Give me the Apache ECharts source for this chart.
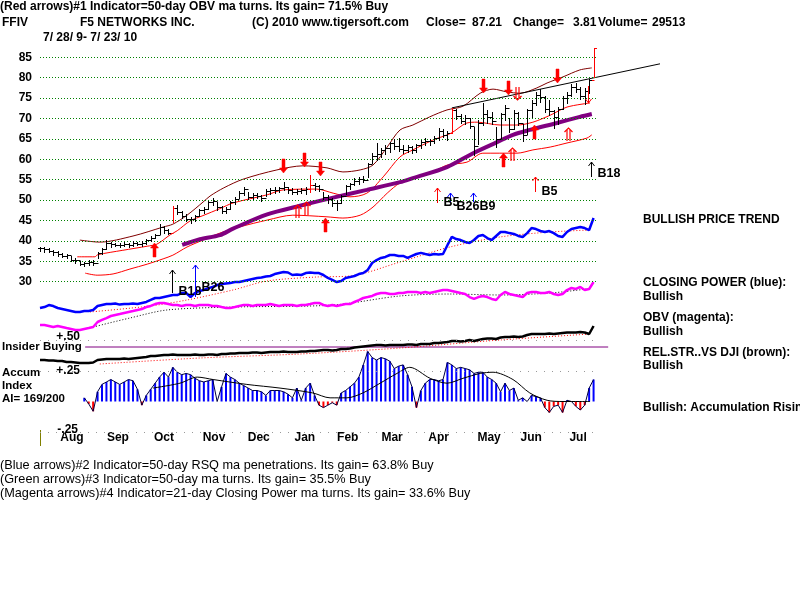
<!DOCTYPE html>
<html><head><meta charset="utf-8">
<script src="https://cdn.jsdelivr.net/npm/echarts@6/dist/echarts.min.js"></script>
<style>html,body{margin:0;padding:0;background:#fff}#c{width:800px;height:600px}</style>
</head><body><div id="c"></div>
<script>
// ---------------- DATA ----------------
// price bars, one every ~2 trading days, 7/28/09 .. 7/23/10
const lows = [37.5,37.4,37.2,36.6,36.4,36.0,35.9,35.0,34.6,34.0,33.9,34.0,34.1,35.8,36.8,38.0,38.6,38.7,38.6,38.8,
38.5,38.7,38.9,38.8,39.3,39.9,40.6,41.6,42.0,41.6,44.6,46.6,45.6,44.9,44.5,44.9,46.2,46.8,47.9,48.8,
47.6,46.9,46.8,47.8,49.0,50.4,51.2,50.2,50.3,50.4,49.8,51.0,51.6,51.8,51.9,52.4,51.8,51.6,51.5,51.7,
51.6,52.0,52.4,52.2,50.2,49.2,48.6,47.5,49.3,51.4,52.6,53.8,54.0,54.4,55.6,59.0,59.8,60.6,61.2,61.8,
62.6,62.0,61.6,61.8,61.5,61.9,62.8,63.4,63.6,63.9,64.8,65.4,64.7,66.5,69.8,69.0,68.6,67.6,61.0,63.8,
68.4,69.0,68.6,63.0,65.2,69.6,66.6,67.4,68.5,64.6,66.2,70.4,73.2,74.0,71.6,70.8,67.6,68.6,72.4,73.8,
75.4,76.6,74.8,73.6,76.2,80.2];
const highs = [38.6,38.5,38.2,37.7,37.5,37.1,36.9,36.2,35.8,35.0,34.9,35.2,35.4,37.4,38.2,40.2,39.8,39.6,39.5,39.7,
39.6,40.0,39.8,40.0,40.4,41.2,41.8,44.2,43.6,43.0,48.5,48.8,47.4,46.5,45.8,46.4,47.8,48.2,49.8,50.6,
49.6,48.6,48.3,49.8,50.7,52.2,53.1,51.9,51.7,51.8,51.2,52.6,53.0,53.1,53.2,54.5,53.2,52.9,52.8,53.0,
53.1,56.1,54.2,53.8,52.0,51.2,50.6,50.0,51.2,53.8,54.3,55.4,55.6,55.8,59.1,61.6,64.0,62.8,63.6,64.2,
64.9,65.2,63.4,63.6,63.2,63.7,64.8,65.2,65.0,65.6,67.6,67.4,67.0,72.6,72.4,71.0,70.8,70.2,68.0,69.6,
73.8,72.2,71.6,68.0,71.4,73.4,70.2,72.0,71.6,68.6,72.4,74.6,76.6,77.2,75.4,74.6,72.2,72.8,75.6,76.4,
78.4,78.8,77.8,77.4,79.8,87.3];
const closes = [38.2,37.9,37.5,37.2,36.8,36.3,36.6,35.3,35.4,34.4,34.6,34.8,34.5,37.0,37.9,39.6,39.2,39.0,39.1,39.3,
38.9,39.5,39.2,39.6,40.1,40.8,41.5,43.5,42.6,41.9,48.0,47.2,46.0,45.4,45.3,46.1,47.5,47.7,49.5,49.8,
48.2,47.4,47.9,49.5,50.3,51.8,52.6,50.8,51.2,50.9,50.6,52.2,52.5,52.4,53.0,53.2,52.4,52.0,52.3,52.5,
52.8,53.6,53.5,52.6,50.8,50.2,49.4,49.2,50.9,53.5,53.9,54.8,55.2,55.0,58.8,60.8,61.2,62.3,62.7,63.9,
63.2,62.6,62.4,62.9,62.2,63.4,64.3,64.6,64.4,65.2,67.0,66.0,66.5,72.0,70.6,69.5,70.2,68.2,63.2,68.8,
71.2,70.4,69.3,65.0,71.0,72.5,67.4,71.3,69.0,66.0,72.0,73.8,75.8,75.2,72.4,71.8,70.4,72.4,75.0,75.8,
77.6,77.2,75.6,76.8,79.4,87.2];
const redBarIdx = [30, 61, 93, 125];

// bands and moving averages [dayIndex, price]
const upperBand = [[9.0,40.2],[13.5,39.7],[21.0,41.2],[27.8,43.4],[30.0,44.1],[33.2,46.3],[36.8,49.5],[38.4,51.0],[41.5,53.0],[45.8,55.1],[53.5,57.4],[59.4,58.4],[64.8,57.9],[68.4,56.9],[72.3,57.4],[75.2,58.6],[78.4,63.0],[81.3,67.2],[84.2,68.4],[88.0,70.4],[91.9,72.1],[95.5,73.0],[99.4,76.2],[102.3,77.2],[105.5,76.5],[108.4,76.2],[112.2,77.5],[114.5,78.7],[118.1,80.2],[121.9,81.9],[124.6,82.4]];
const middleBand = [[8.4,36.1],[12.4,36.1],[13.0,36.6],[18.7,37.7],[24.2,38.7],[26.4,39.2],[29.4,41.5],[31.0,42.5],[33.9,44.9],[36.8,46.2],[40.6,47.9],[43.6,49.3],[51.3,51.3],[54.9,52.5],[62.5,52.7],[66.2,51.7],[70.0,50.8],[73.8,51.7],[77.5,55.7],[81.3,60.6],[84.2,62.3],[88.7,64.7],[92.8,66.4],[96.4,68.9],[98.7,69.1],[103.9,68.4],[107.7,68.4],[111.3,69.1],[115.2,70.8],[119.0,72.8],[124.2,73.8]];
const lowerBand = [[10.2,32.1],[12.9,31.6],[16.5,31.9],[20.3,33.1],[24.2,34.3],[27.8,35.6],[30.0,36.5],[33.2,38.5],[36.8,40.2],[40.6,41.9],[45.0,43.4],[51.3,45.1],[57.1,46.3],[64.8,45.9],[68.4,45.6],[72.3,46.3],[75.2,48.3],[78.4,51.7],[81.3,54.2],[85.1,55.6],[88.7,56.9],[92.0,58.6],[96.4,59.3],[100.0,61.5],[107.7,61.5],[111.3,62.3],[115.2,63.0],[119.0,64.0],[123.5,65.2],[124.6,66.0]];
const ma50 = [[32.1,39.0],[36.1,40.4],[40.6,41.4],[43.6,43.0],[51.3,46.5],[58.7,48.6],[66.2,50.6],[73.8,52.5],[81.3,54.4],[84.2,55.4],[91.9,58.1],[97.8,61.5],[103.2,64.2],[106.8,66.0],[110.6,67.2],[116.7,68.9],[121.9,70.4],[124.6,71.1]];
const trendLine = [[93.0,72.6],[140,83.4]];

// indicators (relative units)
const closingPower = [10.9,11.8,13.6,12.7,10.9,10.0,9.1,8.2,7.3,7.3,8.2,8.2,9.1,12.7,13.6,14.5,14.5,15.0,14.0,14.5,
14.5,15.0,14.5,15.5,16.4,18.2,20.0,20.0,20.9,21.8,22.7,22.7,24.5,24.5,20.9,24.5,26.4,27.3,29.0,30.0,
31.8,32.7,33.2,33.6,34.5,34.5,35.5,36.4,37.3,38.2,38.6,39.5,40.0,41.8,42.7,43.6,43.2,40.9,41.4,40.9,
42.7,43.2,42.7,42.7,40.9,38.2,36.4,34.5,35.5,38.2,39.0,40.0,41.8,42.7,45.5,51.8,54.5,56.4,57.3,59.1,
59.1,58.2,58.2,56.4,58.2,60.0,61.0,60.0,59.1,60.0,59.5,60.0,68.0,75.5,73.6,72.7,70.9,70.0,72.7,76.4,
77.3,74.5,72.7,76.4,80.0,80.0,79.0,78.2,76.4,75.5,79.0,83.6,82.7,80.9,80.0,80.9,79.0,76.4,75.5,80.0,
82.7,83.6,84.5,83.6,81.8,92.7];
const closingPowerMA = [[11.3,7.3],[24.8,12.7],[33.2,18.2],[43.6,27.3],[51.3,35.5],[62.5,39.1],[70.0,40.0],[81.3,52.7],[92.6,66.4],[103.9,75.5],[115.2,80.0],[124.2,81.8]];
const obv = [21.4,21.4,20.0,18.6,20.0,18.6,17.1,15.7,14.3,14.3,15.7,17.1,18.6,25.7,28.6,31.4,34.3,35.7,37.1,38.6,
40.0,41.4,42.9,44.3,47.1,48.6,51.4,52.9,52.9,51.4,50.0,50.0,48.6,50.0,50.0,48.6,50.0,50.0,50.0,48.6,
48.6,47.1,45.7,45.7,47.1,48.6,50.0,50.0,48.6,50.0,50.0,50.0,51.4,50.0,48.6,50.0,50.0,50.0,48.6,50.0,
50.0,51.4,52.9,52.9,50.0,48.6,50.0,48.6,50.0,51.4,51.4,54.3,57.1,60.0,61.4,62.9,65.7,67.1,67.1,65.7,
65.7,67.1,67.1,68.6,68.6,68.6,67.1,68.6,67.1,68.6,70.0,71.4,71.4,70.0,68.6,67.1,65.7,61.4,58.6,61.4,
62.9,61.4,58.6,57.1,64.3,68.6,65.7,64.3,62.9,61.4,67.1,68.6,68.6,67.1,67.1,68.6,65.7,64.3,65.7,71.4,
74.3,72.9,75.7,71.4,72.9,82.9];
const obvMA = [[12.0,18.6],[20.3,31.4],[28.7,42.9],[43.6,47.1],[66.2,50.0],[81.3,62.9],[92.6,65.7],[103.9,64.3],[115.2,67.1],[123.5,72.9]];
const relStrength = [20,20,19,19,18,18,16,16,15,14,14,14,15,20,21,22,22,22,22,23,
22,23,24,25,26,28,28,29,30,30,31,30,30,30,30,31,30,30,31,31,
30,32,32,33,33,34,34,34,35,35,34,35,36,36,36,37,36,36,36,37,
37,38,38,39,40,40,39,40,42,42,43,45,46,47,48,49,50,50,49,50,
50,50,50,51,51,50,52,52,52,54,54,55,56,58,58,57,58,60,58,60,
62,63,63,62,65,66,66,67,66,67,70,72,72,72,72,73,72,73,74,75,
75,75,76,75,72,88];
const relStrengthMA = [[13.5,12],[36.1,24],[58.7,32],[81.3,44],[103.9,60],[124.2,72]];
const insiderLine = [[10.2,46],[128.3,46]];
const accum = [null,null,null,null,null,null,null,null,null,null,
0.03,-0.02,-0.08,0.08,0.14,0.16,0.18,0.16,0.14,0.16,0.18,0.17,0.10,-0.03,0.05,0.10,0.15,0.20,0.24,0.20,
0.28,0.24,0.22,0.23,0.22,0.19,0.17,0.16,0.17,0.18,0.00,0.12,0.23,0.20,0.18,0.15,0.13,0.11,0.09,0.09,
0.08,0.05,0.09,0.09,0.09,0.08,0.06,0.03,0.11,0.01,0.11,0.15,0.05,-0.03,-0.05,-0.03,-0.01,-0.03,0.07,0.09,
0.12,0.15,0.20,0.30,0.41,0.36,0.34,0.36,0.35,0.33,0.27,0.29,0.30,0.22,0.12,-0.05,0.09,0.15,0.18,0.18,
0.17,0.18,0.32,0.30,0.27,0.28,0.27,0.26,0.23,0.24,0.24,0.20,0.18,0.15,0.08,0.15,0.09,0.11,0.01,0.03,
0.00,0.05,0.04,0.03,-0.05,-0.09,-0.04,-0.03,-0.09,0.01,0.00,-0.04,-0.07,-0.03,0.11,0.18];
const accumMA = [[25.5,0.11],[31.6,0.15],[35.5,0.20],[39.1,0.18],[46.7,0.14],[54.2,0.11],[61.6,0.07],[65.5,0.03],[69.3,0.03],[72.9,0.07],[76.8,0.15],[80.6,0.23],[83.5,0.28],[88.1,0.19],[91.9,0.15],[95.5,0.19],[99.4,0.23],[102.3,0.24],[106.8,0.18],[110.6,0.07],[114.5,0.01],[118.1,0.0],[121.9,0.0],[124.2,0.0]];
const accumLevels = [0.5, 0.25, -0.25];

// signal arrows
const redBlockUp = [[25.7,39.5],[64.4,45.6],[104.5,61.5],[111.5,68.4]];
const redDoubleUp = [[58.0,48.8],[60.1,49.5],[106.6,62.8],[119.2,67.7]];
const redBlockDown = [[54.9,56.6],[59.6,58.1],[63.2,55.9],[100.0,76.3],[105.7,75.8],[116.7,78.7]];
const redDoubleDown = [[107.7,74.5]];
// [dayIndex, tip price, tail price, label, label price]
const blackSignals = [[29.8,32.9,27.2,'B18',27.5],[124.4,59.3,55.7,'B18',56.4]];
const blueSignals = [[35.0,34.1,26.3,'B26',28.5],[92.6,51.7,49.5,'B26B9',48.5],[97.8,51.7,49.5,'',0]];
const redSignals = [[89.6,53.0,49.3,'B5',49.3],[111.8,55.7,52.0,'B5',52.2]];
const redSellSignals = [[123.7,73.8,78.0,'',0]];

const monthNames = ['Aug','Sep','Oct','Nov','Dec','Jan','Feb','Mar','Apr','May','Jun','Jul'];
const monthIdx = [7.2,17.6,28.0,39.3,49.4,59.8,69.5,79.5,90.0,101.4,110.9,121.5];
const priceTicks = [30,35,40,45,50,55,60,65,70,75,80,85];
const LAST_DAY = 126;

// ---------------- CHART ----------------
const FONT = '"Liberation Sans", Arial, sans-serif';
const X_MAX = 140;
const chart = echarts.init(document.getElementById('c'), null, {renderer:'canvas'});

const grids = [
  {left:40, top:57.3, width:620, height:224.4},
  {left:40, top:210, width:620, height:110},
  {left:40, top:270, width:620, height:70},
  {left:40, top:320, width:620, height:50},
  {left:40, top:340.5, width:620, height:91.5}
].map(g => Object.assign({show:false, containLabel:false, outerBoundsMode:'none'}, g));

const xAxes = grids.map((g,k) => ({
  gridIndex:k, type:'value', min:0, max:X_MAX, show:k===4,
  axisLine:{show:false}, axisTick:{show:false}, splitLine:{show:false},
  axisLabel: k===4 ? {customValues:monthIdx, formatter:v=>monthNames[monthIdx.indexOf(v)] || '',
     fontFamily:FONT, fontWeight:'bold', fontSize:12, color:'#000', margin:0, showMinLabel:true, showMaxLabel:true} : {show:false}
}));
const hiddenY = (k,min,max) => ({gridIndex:k, type:'value', min, max, show:false, splitLine:{show:false}});
const yAxes = [
  {gridIndex:0, type:'value', min:30, max:85, interval:5,
   axisLine:{show:false}, axisTick:{show:false},
   axisLabel:{fontFamily:FONT, fontWeight:'bold', fontSize:12, color:'#000', margin:8},
   splitLine:{show:false}},
  hiddenY(1,0,100), hiddenY(2,0,100), hiddenY(3,0,100), hiddenY(4,-0.25,0.5)
];

const pairs = arr => arr.map((v,i)=>[i,v]);
const lineS = (k, data, color, width, extra) => Object.assign({
  type:'line', xAxisIndex:k, yAxisIndex:k, data, symbol:'none', silent:true, animation:false,
  lineStyle:{color, width}, z:3}, extra||{});

const ohlc = closes.map((c,i)=>[i, lows[i], highs[i], c, i>0?closes[i-1]:c, redBarIdx.includes(i)?1:0]);

function arrowSeries(data, color, kind){
  return {type:'custom', xAxisIndex:0, yAxisIndex:0, data:data.map(d=>[d[0],d[1],d[2]||0,d[4]||0]), clip:false, silent:true, z:10, animation:false,
    renderItem(params, api){
      const p = api.coord([api.value(0), api.value(1)]);
      const x = Math.round(p[0]) + 0.5, y = Math.round(p[1]);
      const s = (kind.endsWith('Down')) ? -1 : 1;
      if (kind.startsWith('block')) {
        const pts = [[x,y],[x+4,y+5*s],[x+1.5,y+5*s],[x+1.5,y+14*s],[x-1.5,y+14*s],[x-1.5,y+5*s],[x-4,y+5*s]];
        return {type:'polygon', shape:{points:pts}, style:{fill:color, stroke:color, lineWidth:0.5}};
      }
      if (kind.startsWith('double')) {
        return {type:'group', children:[
          {type:'polyline', shape:{points:[[x-4,y+4*s],[x,y],[x+4,y+4*s]]}, style:{stroke:color, fill:null, lineWidth:1.2}},
          {type:'line', shape:{x1:x-1.5,y1:y+2*s,x2:x-1.5,y2:y+13*s}, style:{stroke:color, lineWidth:1.2}},
          {type:'line', shape:{x1:x+1.5,y1:y+2*s,x2:x+1.5,y2:y+13*s}, style:{stroke:color, lineWidth:1.2}}
        ]};
      }
      // thin arrow with label
      const t = api.coord([api.value(0), api.value(2)]);
      const ty = Math.round(t[1]);
      const src = data[params.dataIndex];
      const children = [
        {type:'line', shape:{x1:x,y1:y,x2:x,y2:ty}, style:{stroke:color, lineWidth:1}},
        {type:'polyline', shape:{points:[[x-3,y+4*s],[x,y],[x+3,y+4*s]]}, style:{stroke:color, fill:null, lineWidth:1}}
      ];
      if (src[3]) {
        const lp = api.coord([api.value(0), api.value(3)]);
        children.push({type:'text', x:x+6, y:lp[1], style:{text:src[3], fontFamily:FONT, fontWeight:'bold', fontSize:12.5, fill:'#000', align:'left', verticalAlign:'middle'}});
      }
      return {type:'group', children};
    }};
}

const series = [
  lineS(0, upperBand, '#800000', 1, {smooth:0.3,
    markLine:{silent:true, symbol:'none', label:{show:false}, animation:false,
      lineStyle:{color:'#008000', width:1, type:[1,2]},
      data:priceTicks.map(p=>[{coord:[0,p]},{coord:[LAST_DAY,p]}])}}),
  lineS(0, middleBand, '#ff0000', 1, {smooth:0.3}),
  lineS(0, lowerBand, '#ff0000', 1, {smooth:0.3}),
  lineS(0, ma50, '#800080', 4, {smooth:0.3}),
  lineS(0, trendLine, '#000000', 1, {z:4}),
  {type:'custom', xAxisIndex:0, yAxisIndex:0, data:ohlc, silent:true, animation:false, z:5, clip:false,
   renderItem(params, api){
     const i = api.value(0);
     const h = api.coord([i, api.value(2)]), l = api.coord([i, api.value(1)]);
     const c = api.coord([i, api.value(3)]), o = api.coord([i, api.value(4)]);
     const x = Math.round(h[0]) + 0.5;
     const col = api.value(5) ? '#ff0000' : '#000000';
     const cy = Math.round(c[1]) + 0.5, oy = Math.round(o[1]) + 0.5;
     return {type:'group', children:[
       {type:'line', shape:{x1:x, y1:Math.round(h[1]), x2:x, y2:Math.round(l[1])+1}, style:{stroke:col, lineWidth:1}},
       {type:'line', shape:{x1:x, y1:cy, x2:x+2.5, y2:cy}, style:{stroke:col, lineWidth:1}},
       {type:'line', shape:{x1:x-2.5, y1:oy, x2:x, y2:oy}, style:{stroke:col, lineWidth:1}}
     ]};
   }},
  arrowSeries(redBlockUp, '#ff0000', 'blockUp'),
  arrowSeries(redDoubleUp, '#ff0000', 'doubleUp'),
  arrowSeries(redBlockDown, '#ff0000', 'blockDown'),
  arrowSeries(redDoubleDown, '#ff0000', 'doubleDown'),
  arrowSeries(blackSignals, '#000000', 'thinUp'),
  arrowSeries(blueSignals, '#0000ff', 'thinUp'),
  arrowSeries(redSignals, '#ff0000', 'thinUp'),
  arrowSeries(redSellSignals, '#ff0000', 'thinDown'),
  // closing power
  lineS(1, closingPowerMA, '#ff0000', 1, {smooth:0.3, lineStyle:{color:'#ff0000', width:1, type:[1,2]}}),
  lineS(1, pairs(closingPower), '#0000ff', 2.5, {clip:false, z:4}),
  // obv
  lineS(2, obvMA, '#000000', 1, {smooth:0.3, lineStyle:{color:'#000000', width:1, type:[1,2]}}),
  lineS(2, pairs(obv), '#ff00ff', 2.5, {clip:false, z:4}),
  // relative strength
  lineS(3, insiderLine, '#800080', 1, {clip:false}),
  lineS(3, relStrengthMA, '#ff0000', 1, {smooth:0.3, lineStyle:{color:'#ff0000', width:1, type:[1,2]}}),
  lineS(3, pairs(relStrength), '#000000', 2.5, {clip:false, z:4}),
  // accumulation index
  {type:'bar', xAxisIndex:4, yAxisIndex:4, data:pairs(accum), barWidth:2, silent:true, animation:false,
   itemStyle:{color:p => (p.value[1] < 0 ? '#ff0000' : '#0000ff')},
   markLine:{silent:true, symbol:'none', label:{show:false}, animation:false,
     lineStyle:{color:'#999999', width:1, type:[1,7]},
     data:accumLevels.map(v=>[{coord:[0,v]},{coord:[LAST_DAY,v]}])}},
  lineS(4, pairs(accum), '#000040', 1, {z:4}),
  lineS(4, accumMA, '#000000', 1, {smooth:0.3, z:4})
];

function T(x, y, text, o){
  return {type:'text', x, y, silent:true, z:100,
    style:Object.assign({text, fontFamily:FONT, fontSize:12, fontWeight:'bold', fill:'#000', align:'left', verticalAlign:'middle'}, o||{})};
}
const reg = {fontWeight:'normal', fontSize:12.7};
const sm = {fontSize:11.5};
const graphic = [
  T(0,7,'(Red arrows)#1 Indicator=50-day OBV ma turns. Its gain= 71.5% Buy'),
  T(2,23,'FFIV'), T(80,23,'F5 NETWORKS INC.'), T(252,23,'(C) 2010 www.tigersoft.com'),
  T(426,23,'Close='), T(472,23,'87.21'), T(513,23,'Change='), T(573,23,'3.81'),
  T(598,23,'Volume='), T(652,23,'29513'),
  T(43,38,'7/ 28/ 9- 7/ 23/ 10'),
  T(643,220,'BULLISH PRICE TREND'),
  T(643,283,'CLOSING POWER (blue):'), T(643,297,'Bullish'),
  T(643,318,'OBV (magenta):'), T(643,332,'Bullish'),
  T(643,353,'REL.STR..VS DJI (brown):'), T(643,366,'Bullish'),
  T(643,408,'Bullish: Accumulation Rising'),
  T(2,347,'Insider Buying', sm),
  T(80,337,'+.50',{align:'right'}), T(80,371,'+.25',{align:'right'}), T(78,430,'-.25',{align:'right'}),
  T(2,373,'Accum', sm), T(2,386,'Index', sm), T(2,399,'AI= 169/200', sm),
  T(0,465,'(Blue arrows)#2 Indicator=50-day RSQ ma penetrations. Its gain= 63.8% Buy', reg),
  T(0,479,'(Green arrows)#3 Indicator=50-day ma turns. Its gain= 35.5% Buy', reg),
  T(0,493,'(Magenta arrows)#4 Indicator=21-day Closing Power ma turns. Its gain= 33.6% Buy', reg),
  {type:'line', silent:true, shape:{x1:40.5,y1:430,x2:40.5,y2:446}, style:{stroke:'#808000', lineWidth:1}}
];

chart.setOption({
  backgroundColor:'#ffffff', animation:false,
  grid:grids, xAxis:xAxes, yAxis:yAxes, series, graphic
});
</script></body></html>
